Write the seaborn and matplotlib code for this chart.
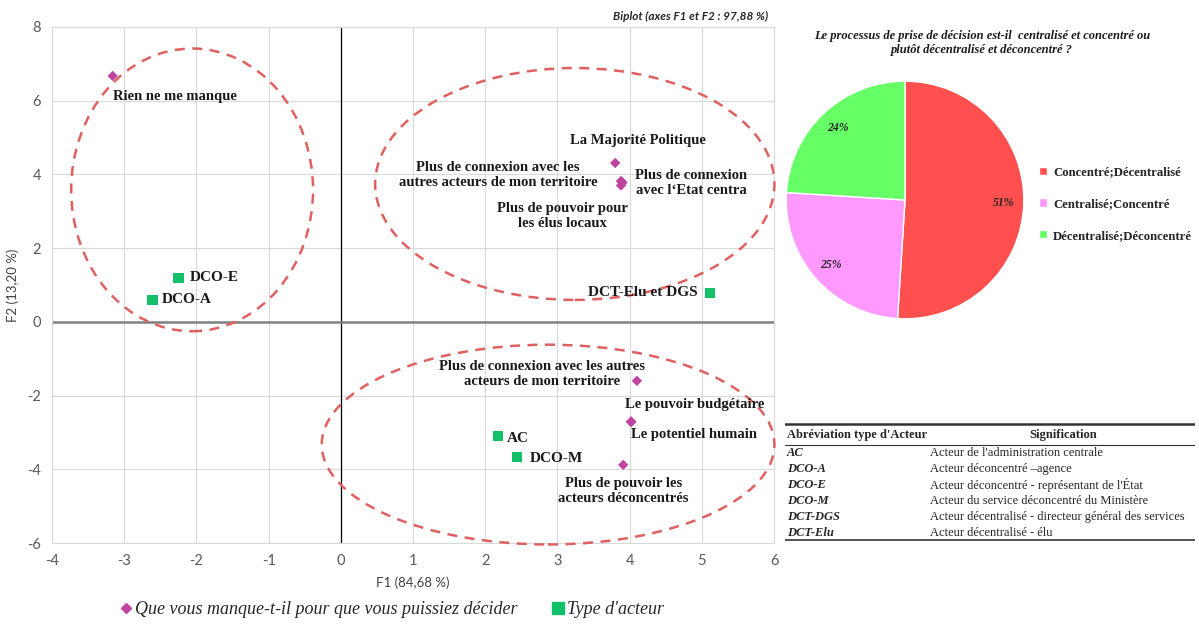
import pandas as pd
import seaborn as sns
import matplotlib.pyplot as plt
from matplotlib.patches import Ellipse
from matplotlib.lines import Line2D

# --- data ---
besoin_labels = [
    'Rien ne me manque',
    'La Majorité Politique',
    'Plus de connexion avec les\nautres acteurs de mon territoire',
    'Plus de connexion\navec l‘Etat centra',
    'Plus de pouvoir pour\nles élus locaux',
    'Plus de connexion avec les autres\nacteurs de mon territoire',
    'Le pouvoir budgétaire',
    'Le potentiel humain',
    'Plus de pouvoir les\nacteurs déconcentrés',
]
besoin_f1 = [-3.16, 3.80, 3.88, 3.90, 3.88, 4.10, 4.02, 4.02, 3.91]
besoin_f2 = [6.67, 4.31, 3.82, 3.78, 3.70, -1.60, -2.70, -2.72, -3.88]

acteur_labels = ['DCO-E', 'DCO-A', 'DCT-Elu et DGS', 'AC', 'DCO-M']
acteur_f1 = [-2.25, -2.61, 5.11, 2.18, 2.44]
acteur_f2 = [1.19, 0.60, 0.79, -3.09, -3.66]

pie_labels = ['Concentré;Décentralisé', 'Centralisé;Concentré', 'Décentralisé;Déconcentré']
pie_values = [51, 25, 24]

table_abbr = ['AC', 'DCO-A', 'DCO-E', 'DCO-M', 'DCT-DGS', 'DCT-Elu']
table_sig = ["Acteur de l'administration centrale",
             'Acteur déconcentré –agence',
             "Acteur déconcentré - représentant de l'État",
             'Acteur du service déconcentré du Ministère',
             'Acteur décentralisé - directeur général des services',
             'Acteur décentralisé - élu']

G1 = 'Que vous manque-t-il pour que vous puissiez décider'
G2 = "Type d'acteur"

# label placement (offset points, ha)
besoin_pos = [(0, -15, 'left'), (16, 16, 'center'), (-17, 4, 'right'), (9, 0, 'left'),
              (-42, -22, 'center'), (-68, 5, 'center'), (46, 12, 'center'),
              (45, -9, 'center'), (0, -19, 'center')]
acteur_pos = [(8, 0), (7, 0), (-9, 0), (6, -2), (9, -1)]

ellipses = [(-2.06, 3.58, 3.35, 7.67), (3.24, 3.74, 5.53, 6.29), (2.87, -3.33, 6.27, 5.42)]

df = pd.DataFrame({
    'F1': besoin_f1 + acteur_f1,
    'F2': besoin_f2 + acteur_f2,
    'label': besoin_labels + acteur_labels,
    'groupe': [G1] * len(besoin_f1) + [G2] * len(acteur_f1),
})

sns.set_theme(style='white')
plt.rcParams['font.family'] = ['Liberation Serif', 'DejaVu Sans']
plt.rcParams['axes.unicode_minus'] = False

MAG = '#C0449F'
GRN = '#12C06A'
RED = '#E06060'

fig = plt.figure(figsize=(11.99, 6.24), dpi=100)
ax = fig.add_axes([0.0434, 0.1298, 0.6022, 0.827])

sns.scatterplot(data=df, x='F1', y='F2', hue='groupe', style='groupe',
                palette={G1: MAG, G2: GRN}, markers={G1: 'D', G2: 's'},
                size='groupe', sizes={G1: 28, G2: 55},
                edgecolor='none', legend=False, ax=ax, zorder=4)

ax.set_xlim(-4, 6)
ax.set_ylim(-6, 8)
ax.set_xticks(range(-4, 7))
ax.set_yticks(range(-6, 9, 2))
ax.grid(True, color='#D9D9D9', lw=0.8)
for s in ax.spines.values():
    s.set_color('#D9D9D9')
    s.set_linewidth(0.8)
ax.axvline(0, color='black', lw=0.9, zorder=2)
ax.axhline(0, color='#808080', lw=1.8, zorder=2)
ax.tick_params(axis='both', length=0, labelsize=10.5, labelcolor='#595959', pad=8)
for t in ax.get_xticklabels() + ax.get_yticklabels():
    t.set_fontfamily('Lato')
ax.set_xlabel('F1 (84,68 %)', fontfamily='Lato', fontsize=9.5, color='#404040', labelpad=6)
ax.set_ylabel('F2 (13,20 %)', fontfamily='Lato', fontsize=9.5, color='#404040', labelpad=6)

for cx, cy, w, h in ellipses:
    ax.add_patch(Ellipse((cx, cy), w, h, fill=False, ls=(0, (4, 3)), lw=1.8,
                         edgecolor=RED, zorder=3, clip_on=False))

for i, lab in enumerate(besoin_labels):
    dx, dy, ha = besoin_pos[i]
    ax.annotate(lab, (besoin_f1[i], besoin_f2[i]), xytext=(dx, dy),
                textcoords='offset points', ha=ha, va='center', multialignment='center',
                fontsize=10.5, fontweight='bold', color='#1a1a1a', zorder=5)
for i, lab in enumerate(acteur_labels):
    dx, dy = acteur_pos[i]
    ax.annotate(lab, (acteur_f1[i], acteur_f2[i]), xytext=(dx, dy),
                textcoords='offset points', ha='right' if dx < 0 else 'left', va='center',
                fontsize=11, fontweight='bold', color='#1a1a1a', zorder=5)

fig.text(768 / 1199, 1 - 16 / 624, 'Biplot (axes F1 et F2 : 97,88 %)', ha='right', va='center',
         fontfamily='Lato', fontsize=8.5, fontweight='bold', fontstyle='italic', color='#262626')

handles = [Line2D([], [], marker='D', color=MAG, ls='none', markersize=5),
           Line2D([], [], marker='s', color=GRN, ls='none', markersize=8)]
fig.legend(handles, [G1, G2], loc='center', bbox_to_anchor=(391 / 1199, 1 - 610 / 624),
           ncol=2, frameon=False, handlelength=0.8, handletextpad=0.1, columnspacing=1.85,
           prop={'family': 'Liberation Serif', 'style': 'italic', 'size': 13})

# --- pie ---
pax = fig.add_axes([785 / 1199, 1 - 320 / 624, 240 / 1199, 240 / 624])
wedges, _, autotexts = pax.pie(pie_values, colors=['#FF4F4F', '#FF99FF', '#66FF66'],
                               startangle=90, counterclock=False, autopct='%d%%',
                               pctdistance=0.83, wedgeprops={'edgecolor': 'white', 'lw': 1})
for t in autotexts:
    t.set_fontsize(8.5)
    t.set_fontweight('bold')
    t.set_fontstyle('italic')
    t.set_color('#262626')
pax.set_aspect('equal')
pax.set_xlim(-1.01, 1.01)
pax.set_ylim(-1.01, 1.01)
fig.text(982 / 1199, 1 - 43 / 624,
         'Le processus de prise de décision est-il  centralisé et concentré ou\nplutôt décentralisé et déconcentré ?',
         ha='center', va='center', fontsize=9, fontweight='bold', fontstyle='italic',
         color='#1a1a1a', linespacing=1.3)
fig.legend(wedges, pie_labels, loc='center left', bbox_to_anchor=(1039 / 1199, 1 - 204 / 624),
           frameon=False, borderpad=0, borderaxespad=0,
           handlelength=0.6, handleheight=0.6, handletextpad=0.5,
           labelspacing=1.55, prop={'family': 'Liberation Serif', 'weight': 'bold', 'size': 9.2})

# --- table ---
tax = fig.add_axes([785 / 1199, 1 - 542 / 624, 410 / 1199, 120 / 624])
tax.set_xlim(0, 410)
tax.set_ylim(120, 0)
tax.axis('off')
tax.plot([0, 410], [2, 2], color='#333333', lw=1.8)
tax.plot([0, 410], [23, 23], color='#333333', lw=0.8)
tax.plot([0, 410], [118, 118], color='#333333', lw=1.2)
tax.text(2, 13, "Abréviation type d'Acteur", fontsize=9, fontweight='bold', va='center')
tax.text(278, 13, 'Signification', fontsize=9, fontweight='bold', va='center', ha='center')
for i, (a, s) in enumerate(zip(table_abbr, table_sig)):
    y = 31 + i * 15.9
    tax.text(2, y, a, fontsize=9, fontweight='bold', fontstyle='italic', va='center')
    tax.text(145, y, s, fontsize=9, va='center', color='#262626')

fig.savefig('out.png', dpi=100)
